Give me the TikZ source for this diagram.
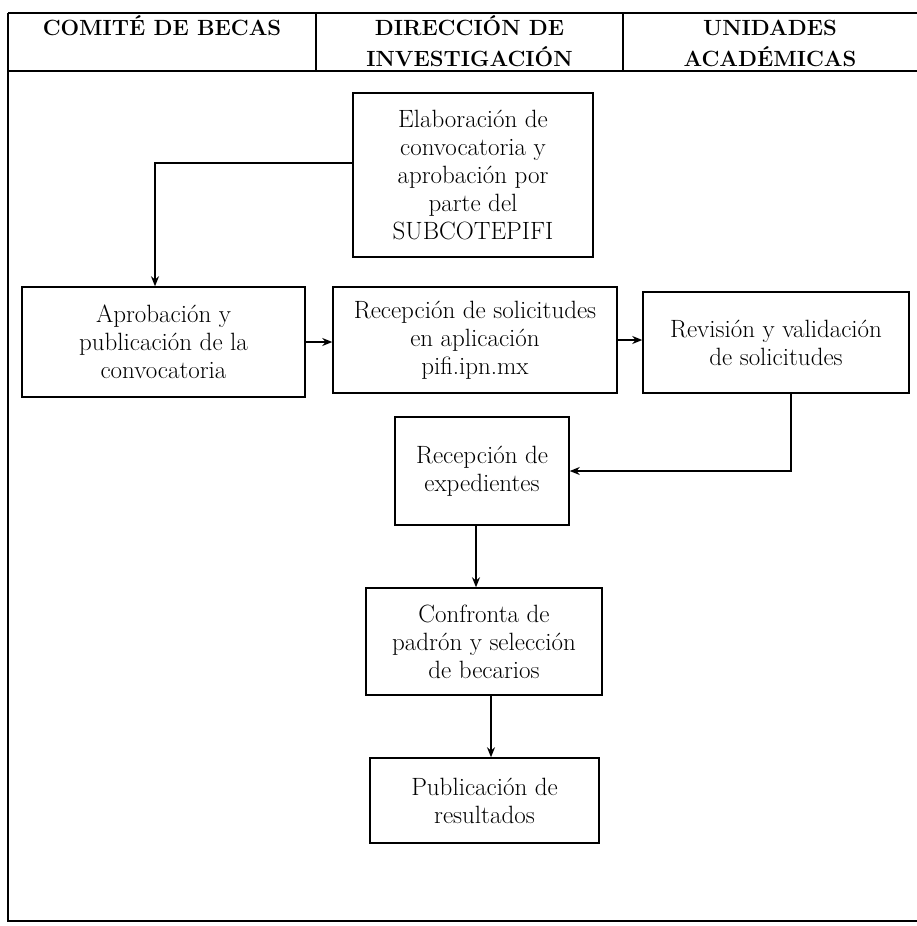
\documentclass[tikz,border=0pt]{standalone}
\usetikzlibrary{arrows.meta}
\begin{document}
\begin{tikzpicture}[x=1pt,y=-1pt,
  rule/.style={line width=1.7pt},
  stage/.style={draw, line width=1.5pt, inner sep=0pt, align=center,
    font=\fontsize{25}{28}\selectfont},
  head/.style={anchor=north, align=center, inner sep=0pt,
    font=\fontsize{22}{31}\selectfont\bfseries},
  flow/.style={line width=1.4pt, -{Stealth[length=10pt,width=8pt]}}]
\useasboundingbox (0,0) rectangle (917,926);
\fill[white] (0,0) rectangle (917,926);

% table frame and header row
\draw[rule] (8,13) -- (917,13);
\draw[rule] (8,71) -- (917,71);
\draw[rule] (8,13) -- (8,921) -- (917,921);
\draw[rule] (316,13) -- (316,71);
\draw[rule] (623,13) -- (623,71);

\node[head] (h1) at (162,15) {COMITÉ DE BECAS};
\node[head] (h2) at (469.5,15) {DIRECCIÓN DE\\INVESTIGACIÓN};
\node[head] (h3) at (770,15) {\vphantom{É}UNIDADES\\ACADÉMICAS};

% process steps
\node[stage, minimum width=240pt, minimum height=164pt] (elab) at (473,175)
  {Elaboración de\\convocatoria y\\aprobación por\\parte del\\SUBCOTEPIFI};
\node[stage, minimum width=283pt, minimum height=110pt] (aprob) at (163.5,342)
  {Aprobación y\\publicación de la\\convocatoria};
\node[stage, minimum width=284pt, minimum height=106pt] (recsol) at (475,340)
  {Recepción de solicitudes\\en aplicación\\pifi.ipn.mx};
\node[stage, minimum width=266pt, minimum height=101pt] (revis) at (776,342.5)
  {Revisión y validación\\de solicitudes};
\node[stage, minimum width=174pt, minimum height=108pt] (recexp) at (482,471)
  {Recepción de\\expedientes};
\node[stage, minimum width=236pt, minimum height=107pt] (confr) at (484,641.5)
  {Confronta de\\padrón y selección\\de becarios};
\node[stage, minimum width=229pt, minimum height=85pt] (publ) at (484.5,800.5)
  {Publicación de\\resultados};

% connectors
\draw[flow] ([yshift=12pt]elab.west) -| ([xshift=-8.5pt]aprob.north);
\draw[flow] (aprob.east) -- (aprob.east -| recsol.west);
\draw[flow] (recsol.east) -- (recsol.east -| revis.west);
\draw[flow] ([xshift=15pt]revis.south) |- (recexp.east);
\draw[flow] ([xshift=-6pt]recexp.south) -- ([xshift=-6pt]recexp.south |- confr.north);
\draw[flow] ([xshift=7pt]confr.south) -- ([xshift=7pt]confr.south |- publ.north);
\end{tikzpicture}
\end{document}
